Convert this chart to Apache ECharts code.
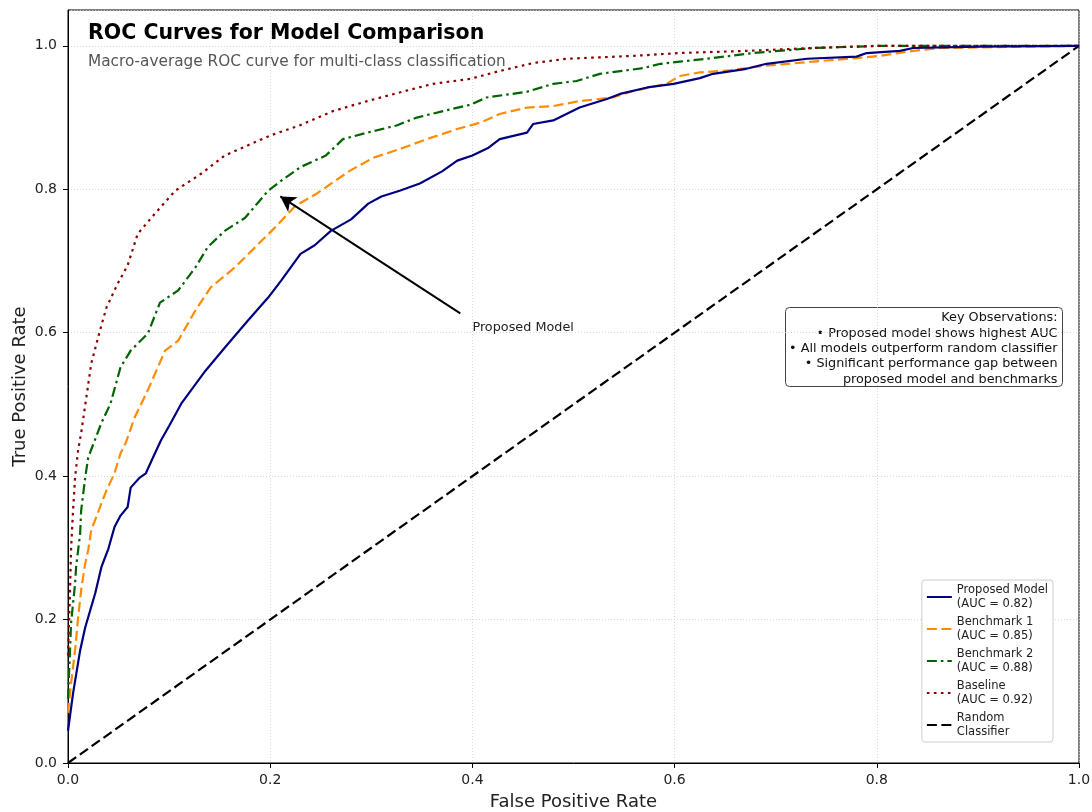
<!DOCTYPE html>
<html>
<head>
<meta charset="utf-8">
<script src="https://cdn.jsdelivr.net/npm/echarts@6/dist/echarts.min.js"></script>
<style>
  html, body { margin: 0; padding: 0; background: #fff; }
  #chart { width: 1092px; height: 812px; }
</style>
</head>
<body>
<div id="chart"></div>
<script>
// ROC points: [fpr, tpr]
const proposedRoc = [
  [0, 0.045], [0.005, 0.097], [0.012, 0.157], [0.017, 0.189], [0.022, 0.213], [0.027, 0.237],
  [0.033, 0.273], [0.04, 0.299], [0.046, 0.329], [0.052, 0.345], [0.059, 0.357], [0.062, 0.384],
  [0.071, 0.398], [0.077, 0.404], [0.086, 0.432], [0.092, 0.45], [0.1, 0.47], [0.112, 0.501],
  [0.136, 0.547], [0.155, 0.579], [0.178, 0.617], [0.198, 0.649], [0.211, 0.673], [0.23, 0.71],
  [0.244, 0.722], [0.26, 0.742], [0.28, 0.758], [0.297, 0.78], [0.31, 0.79], [0.328, 0.798],
  [0.348, 0.808], [0.37, 0.825], [0.385, 0.84], [0.4, 0.847], [0.416, 0.858], [0.427, 0.87],
  [0.454, 0.879], [0.46, 0.891], [0.48, 0.896], [0.506, 0.914], [0.533, 0.926], [0.546, 0.933],
  [0.573, 0.942], [0.599, 0.947], [0.625, 0.955], [0.638, 0.961], [0.671, 0.968], [0.691, 0.975],
  [0.731, 0.982], [0.78, 0.985], [0.79, 0.99], [0.823, 0.993], [0.836, 0.997], [0.902, 0.999], [1, 1],
];
const benchmark1Roc = [
  [0, 0.07], [0.003, 0.111], [0.007, 0.157], [0.01, 0.203], [0.013, 0.241], [0.017, 0.278],
  [0.02, 0.297], [0.023, 0.325], [0.028, 0.343], [0.033, 0.362], [0.038, 0.38], [0.046, 0.404],
  [0.052, 0.432], [0.057, 0.446], [0.066, 0.482], [0.079, 0.52], [0.096, 0.575], [0.109, 0.589],
  [0.126, 0.631], [0.141, 0.663], [0.165, 0.691], [0.185, 0.719], [0.205, 0.747], [0.225, 0.777],
  [0.246, 0.794], [0.279, 0.826], [0.302, 0.844], [0.328, 0.856], [0.355, 0.87], [0.385, 0.884],
  [0.408, 0.893], [0.427, 0.905], [0.454, 0.914], [0.48, 0.916], [0.506, 0.923], [0.539, 0.928],
  [0.559, 0.937], [0.592, 0.947], [0.605, 0.958], [0.625, 0.963], [0.655, 0.966], [0.688, 0.972],
  [0.737, 0.978], [0.78, 0.983], [0.803, 0.986], [0.836, 0.993], [0.862, 0.997], [1, 1],
];
const benchmark2Roc = [
  [0, 0.09], [0.002, 0.157], [0.003, 0.195], [0.007, 0.25], [0.008, 0.273], [0.012, 0.32],
  [0.013, 0.352], [0.017, 0.398], [0.02, 0.426], [0.033, 0.474], [0.042, 0.501], [0.052, 0.552],
  [0.062, 0.575], [0.079, 0.599], [0.091, 0.642], [0.109, 0.659], [0.126, 0.691], [0.138, 0.719],
  [0.155, 0.742], [0.175, 0.76], [0.198, 0.798], [0.211, 0.812], [0.23, 0.831], [0.255, 0.847],
  [0.272, 0.87], [0.296, 0.879], [0.325, 0.889], [0.345, 0.9], [0.371, 0.909], [0.398, 0.918],
  [0.414, 0.928], [0.454, 0.936], [0.48, 0.947], [0.503, 0.951], [0.526, 0.961], [0.569, 0.969],
  [0.586, 0.975], [0.605, 0.978], [0.638, 0.983], [0.678, 0.99], [0.737, 0.997], [0.803, 1], [1, 1],
];
const baselineRoc = [
  [0, 0.15], [0.002, 0.24], [0.003, 0.297], [0.005, 0.352], [0.007, 0.398], [0.01, 0.436],
  [0.013, 0.46], [0.023, 0.557], [0.031, 0.6], [0.038, 0.635], [0.049, 0.668], [0.059, 0.694],
  [0.069, 0.738], [0.086, 0.766], [0.106, 0.798], [0.132, 0.822], [0.155, 0.847], [0.2, 0.875],
  [0.229, 0.889], [0.262, 0.909], [0.296, 0.923], [0.328, 0.935], [0.361, 0.947], [0.398, 0.954],
  [0.427, 0.965], [0.46, 0.976], [0.493, 0.982], [0.559, 0.986], [0.605, 0.99], [0.671, 0.993],
  [0.737, 0.997], [0.8, 1], [1, 1],
];
const randomRoc = [[0, 0], [1, 1]];

const seriesNames = [
  'Proposed Model\n(AUC = 0.82)',
  'Benchmark 1\n(AUC = 0.85)',
  'Benchmark 2\n(AUC = 0.88)',
  'Baseline\n(AUC = 0.92)',
  'Random\nClassifier',
];
const observations = [
  'Key Observations:',
  '• Proposed model shows highest AUC',
  '• All models outperform random classifier',
  '• Significant performance gap between',
  'proposed model and benchmarks',
];
const arrowTail = [0.388, 0.627];
const arrowTip = [0.21, 0.79];
const arrowLabelAt = [0.4, 0.607];

const font = 'DejaVu Sans';
const chart = echarts.init(document.getElementById('chart'));

function lineSeries(name, data, color, type) {
  return {
    name,
    type: 'line',
    data,
    symbol: 'none',
    smooth: false,
    silent: true,
    lineStyle: { color, width: 2.2, type },
    itemStyle: { color },
  };
}

const proposed = lineSeries(seriesNames[0], proposedRoc, '#000080', 'solid');
proposed.z = 5;
proposed.markLine = {
  silent: true,
  symbol: ['none', 'arrow'],
  symbolSize: [13, 15],
  label: { show: false },
  lineStyle: { color: '#000', width: 2, type: 'solid' },
  data: [[{ coord: arrowTail }, { coord: arrowTip }]],
};
proposed.markPoint = {
  silent: true,
  symbol: 'circle',
  symbolSize: 0,
  label: {
    show: true,
    position: 'right',
    distance: 0,
    formatter: 'Proposed Model',
    color: '#222',
    fontFamily: font,
    fontSize: 12.8,
  },
  data: [{ coord: arrowLabelAt }],
};

const option = {
  animation: false,
  textStyle: { fontFamily: font },
  title: {
    text: 'ROC Curves for Model Comparison',
    subtext: 'Macro-average ROC curve for multi-class classification',
    left: 83,
    top: 18,
    itemGap: 11,
    textStyle: { fontFamily: font, fontSize: 20.5, fontWeight: 'bold', color: '#000' },
    subtextStyle: { fontFamily: font, fontSize: 15.3, color: '#555' },
  },
  grid: {
    left: 68, right: 13, top: 10, bottom: 49,
    outerBoundsMode: 'none',
    containLabel: false,
    show: true, borderColor: '#000', borderWidth: 1,
  },
  legend: {
    orient: 'vertical',
    right: 39,
    bottom: 70,
    itemWidth: 25,
    itemHeight: 10,
    itemGap: 4,
    padding: [3, 5, 3, 4],
    borderColor: '#ccc',
    borderWidth: 1,
    borderRadius: 3,
    backgroundColor: '#fff',
    itemStyle: { opacity: 0 },
    textStyle: { fontFamily: font, fontSize: 11.5, lineHeight: 14, color: '#222' },
    data: seriesNames,
  },
  xAxis: {
    type: 'value',
    min: 0,
    max: 1,
    interval: 0.2,
    name: 'False Positive Rate',
    nameLocation: 'middle',
    nameGap: 30,
    nameTextStyle: { fontFamily: font, fontSize: 18, color: '#222' },
    axisLine: { show: true, lineStyle: { color: '#000', width: 1 } },
    axisTick: { show: true, inside: false, length: 5, lineStyle: { color: '#000' } },
    axisLabel: { fontFamily: font, fontSize: 14, color: '#222', margin: 10, formatter: (v) => v.toFixed(1) },
    splitLine: { show: true, lineStyle: { color: '#d0d0d0', width: 0.8, type: [1, 2] } },
  },
  yAxis: {
    type: 'value',
    min: 0,
    max: 1.05,
    interval: 0.2,
    name: 'True Positive Rate',
    nameLocation: 'middle',
    nameGap: 39,
    nameMoveOverlap: false,
    nameTextStyle: { fontFamily: font, fontSize: 18, color: '#222' },
    axisLine: { show: true, lineStyle: { color: '#000', width: 1 } },
    axisTick: { show: true, inside: false, length: 5, lineStyle: { color: '#000' } },
    axisLabel: {
      fontFamily: font, fontSize: 14, color: '#222', margin: 11, showMaxLabel: false,
      formatter: (v) => (Math.abs(v * 5 - Math.round(v * 5)) < 1e-6 ? v.toFixed(1) : ''),
    },
    splitLine: { show: true, lineStyle: { color: '#d0d0d0', width: 0.8, type: [1, 2] } },
  },
  graphic: [{
    type: 'group',
    right: 29,
    top: 307,
    children: [{
      type: 'rect',
      shape: { x: 0, y: 0, width: 277, height: 79, r: 4 },
      style: { fill: 'rgba(255,255,255,0.9)', stroke: '#444', lineWidth: 1 },
    }, {
      type: 'text',
      x: 272,
      y: 3,
      style: {
        text: observations.join('\n'),
        align: 'right',
        verticalAlign: 'top',
        font: '12.8px "DejaVu Sans"',
        lineHeight: 15.3,
        fill: '#111',
      },
    }],
  }],
  series: [
    proposed,
    lineSeries(seriesNames[1], benchmark1Roc, '#ff8c00', [10, 4.5]),
    lineSeries(seriesNames[2], benchmark2Roc, '#006400', [10, 4, 2.5, 4]),
    lineSeries(seriesNames[3], baselineRoc, '#8b0000', [2.6, 4.4]),
    lineSeries(seriesNames[4], randomRoc, '#000', [10, 4.5]),
  ],
};

chart.setOption(option);
</script>
</body>
</html>
